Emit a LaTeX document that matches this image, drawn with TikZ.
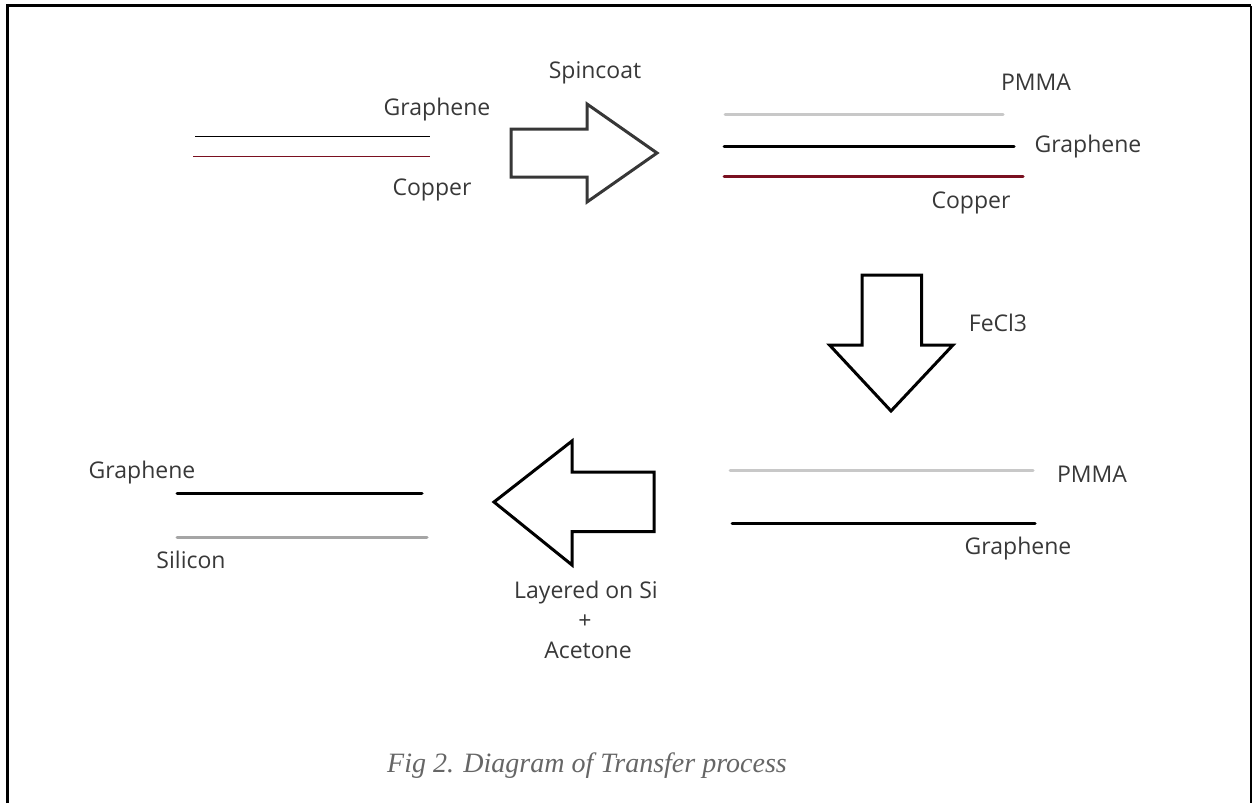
\documentclass[tikz,border=0pt]{standalone}
\usepackage{fontspec}
\setmainfont{Open Sans}
\newfontfamily\capfont{Liberation Serif}
\begin{document}
\begin{tikzpicture}[x=1pt,y=-1pt,
  lbl/.style={font=\fontsize{23}{27}\selectfont, text=black!78, inner sep=0pt, anchor=center},
  captiontext/.style={font=\capfont\itshape\fontsize{28}{33}\selectfont, text=black!60, inner sep=0pt},
  thinlayer/.style={line width=1.1pt},
  layer/.style={line width=3pt, line cap=round},
  blockarrow/.style={line width=3pt, line join=miter, fill=white},
  frameline/.style={line width=3pt}
]
\useasboundingbox (0,0) rectangle (1255,803);
\definecolor{copperred}{RGB}{122,16,32}
\definecolor{pmma}{RGB}{200,200,200}
\definecolor{silicon}{RGB}{165,165,165}
\definecolor{arrowgray}{RGB}{55,55,55}

% frame (open at the bottom)
\draw[frameline] (7.5,803) -- (7.5,5.5) -- (1251,5.5);
\draw[line width=1.4pt] (1251,5.5) -- (1251,803);

% ---- stage 1: graphene on copper
\coordinate (g1a) at (195,136.5); \coordinate (g1b) at (430,136.5);
\coordinate (c1a) at (193,156.5); \coordinate (c1b) at (430,156.5);
\draw[thinlayer, black] (g1a) -- (g1b);
\draw[thinlayer, copperred] (c1a) -- (c1b);
\node[lbl] (t1g) at (437,110) {Graphene};
\node[lbl] (t1c) at (432,190) {Copper};

% ---- arrow 1 (right)
\draw[blockarrow, draw=arrowgray] (511,129) -- (587,129) -- (587,104) -- (657,153) -- (587,202) -- (587,177) -- (511,177) -- cycle;
\node[lbl] (tspin) at (595,73) {Spincoat};

% ---- stage 2: PMMA / graphene / copper
\coordinate (p2a) at (725,114.5); \coordinate (p2b) at (1003,114.5);
\coordinate (g2a) at (724,146);   \coordinate (g2b) at (1014,146);
\coordinate (c2a) at (724,176);   \coordinate (c2b) at (1023,176);
\draw[layer, pmma] (p2a) -- (p2b);
\draw[layer, black] (g2a) -- (g2b);
\draw[layer, copperred] (c2a) -- (c2b);
\node[lbl] (t2p) at (1036,82) {PMMA};
\node[lbl] (t2g) at (1088,147) {Graphene};
\node[lbl] (t2c) at (971,203) {Copper};

% ---- arrow 2 (down)
\draw[blockarrow] (862,275) -- (921.5,275) -- (921.5,345) -- (953,345) -- (891,411) -- (829.5,345) -- (862,345) -- cycle;
\node[lbl] (tfecl) at (998,323) {FeCl3};

% ---- stage 3: PMMA / graphene
\coordinate (p3a) at (730,470.5); \coordinate (p3b) at (1033,470.5);
\coordinate (g3a) at (732,523.5); \coordinate (g3b) at (1035,523.5);
\draw[layer, pmma] (p3a) -- (p3b);
\draw[layer, black] (g3a) -- (g3b);
\node[lbl] (t3p) at (1092,474) {PMMA};
\node[lbl] (t3g) at (1018,549) {Graphene};

% ---- arrow 3 (left)
\draw[blockarrow] (654,472) -- (572,472) -- (572,441) -- (494,502) -- (572,565) -- (572,531.5) -- (654,531.5) -- cycle;
\node[lbl] (tlay) at (586,593) {Layered on Si};
\node[lbl] (tplus) at (585,622) {+};
\node[lbl] (tace) at (588,650) {Acetone};

% ---- stage 4: graphene on silicon
\coordinate (g4a) at (177,493.5); \coordinate (g4b) at (422,493.5);
\coordinate (s4a) at (177,537.5); \coordinate (s4b) at (427,537.5);
\draw[layer, black] (g4a) -- (g4b);
\draw[layer, silicon] (s4a) -- (s4b);
\node[lbl] (t4g) at (142,473) {Graphene};
\node[lbl] (t4s) at (191,560) {Silicon};

% caption
\node[captiontext] (caption) at (587,766) {Fig 2. Diagram of Transfer process};
\end{tikzpicture}
\end{document}
